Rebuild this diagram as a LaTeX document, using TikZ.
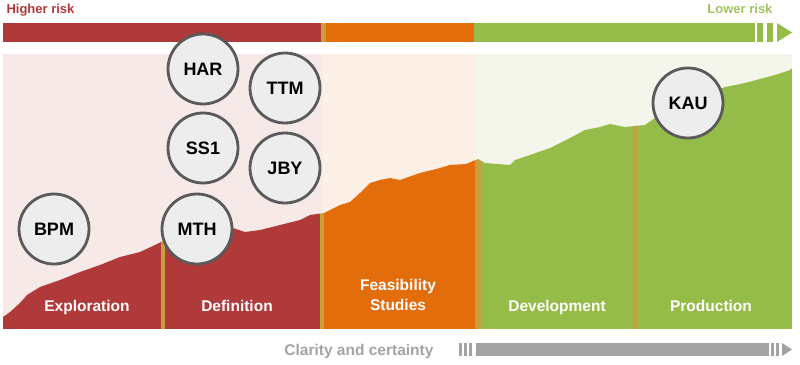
\documentclass[tikz,border=0pt]{standalone}
\usepackage{fontspec}
\setmainfont{Liberation Sans}
\usepackage{tikz}
\definecolor{riskred}{HTML}{B0393A}
\definecolor{riskorange}{HTML}{E36C0B}
\definecolor{riskgreen}{HTML}{95BC48}
\definecolor{stagegold}{HTML}{C6A03C}
\definecolor{bgpink}{HTML}{F6E9E7}
\definecolor{bgpeach}{HTML}{FCEFE6}
\definecolor{bggreen}{HTML}{F4F6EC}
\definecolor{discgray}{HTML}{EDEDED}
\definecolor{ringgray}{HTML}{5A5A5A}
\definecolor{claritygray}{HTML}{A3A3A3}
\tikzset{
  project/.style={circle,minimum size=70pt,inner sep=0pt,draw=ringgray,fill=discgray,
    line width=2.8pt,text=black,font=\fontsize{18}{18}\selectfont\bfseries},
  stagelabel/.style={text=white,font=\fontsize{15.5}{20}\selectfont\bfseries,align=center},
  risklabel/.style={font=\fontsize{13}{13}\selectfont\bfseries,#1},
  risklabel/.default={riskred},
}

\begin{document}
\begin{tikzpicture}[x=1pt,y=-1pt]
  \useasboundingbox (0,0) rectangle (800,364);
  % risk bar on top
  \fill[riskred] (3,23) rectangle (321,42);
  \fill[stagegold] (321,23) rectangle (326,42);
  \fill[riskorange] (326,23) rectangle (474,42);
  \fill[riskgreen] (474,23) rectangle (755,42);
  \foreach \x in {757,767} \fill[riskgreen] (\x,23) rectangle ++(6,19);
  \fill[riskgreen] (777,23) -- (792,32.5) -- (777,42) -- cycle;
  \node[risklabel,anchor=base west] (higher) at (3,13.5) {Higher risk};
  \node[risklabel=riskgreen!90!white,anchor=base east] (lower) at (776,13.5) {Lower risk};
  % stage panels
  \fill[bgpink] (3,54) rectangle (322,329);
  \fill[bgpeach] (322,54) rectangle (476,329);
  \fill[bggreen] (476,54) rectangle (792,329);
  \begin{scope}
    \clip (3,329) -- (3,317) -- (10,312) -- (20,303) -- (27,295) -- (40,287) -- (60,280)
      -- (80,272) -- (100,265) -- (120,257) -- (140,252) -- (155,245) -- (161,242)
      -- (180,238) -- (200,235) -- (220,231) -- (233,228) -- (245,232) -- (260,230)
      -- (280,225) -- (300,220) -- (310,215) -- (324,213) -- (330,210) -- (340,205)
      -- (350,202) -- (360,193) -- (370,183) -- (380,180) -- (390,178) -- (400,180)
      -- (420,173) -- (440,168) -- (450,165) -- (466,164) -- (478,159) -- (485,163)
      -- (510,165) -- (515,160) -- (530,155) -- (550,148) -- (570,138) -- (585,130)
      -- (600,127) -- (610,124) -- (625,127) -- (635,126) -- (645,125) -- (655,118)
      -- (670,110) -- (690,100) -- (710,93) -- (725,87) -- (745,83) -- (760,79)
      -- (775,75) -- (790,70) -- (792,68) -- (792,329) -- cycle;
    \fill[riskred] (3,0) rectangle (320,329);
    \fill[riskorange] (324,0) rectangle (475,329);
    \fill[riskgreen] (481,0) rectangle (792,329);
    \foreach \a/\b in {161/165,320/324,475/481,633/637}
      \fill[stagegold] (\a,0) rectangle (\b,329);
  \end{scope}
  \node[stagelabel,anchor=base] (explore) at (87,311) {Exploration};
  \node[stagelabel,anchor=base] (define) at (237,311) {Definition};
  \node[stagelabel] (feasible) at (398,295) {Feasibility\\Studies};
  \node[stagelabel,anchor=base] (develop) at (557,311) {Development};
  \node[stagelabel,anchor=base] (produce) at (711,311) {Production};
  % projects
  \node[project] (har) at (203,69) {HAR};
  \node[project] (ttm) at (285,88) {TTM};
  \node[project] (ss1) at (203,148) {SS1};
  \node[project] (jby) at (285,168) {JBY};
  \node[project] (mth) at (197,229) {MTH};
  \node[project] (bpm) at (54,229) {BPM};
  \node[project] (kau) at (688,103) {KAU};
  % clarity arrow
  \node[font=\fontsize{15.5}{15.5}\selectfont\bfseries,text=claritygray,anchor=base east]
    (clarity) at (437,355) {Clarity and certainty};
  \foreach \x in {459,464,469} \fill[claritygray] (\x,343) rectangle ++(2.5,13);
  \fill[claritygray] (476,343) rectangle (769,356);
  \foreach \x in {771,776} \fill[claritygray] (\x,343) rectangle ++(3,13);
  \fill[claritygray] (782,343) -- (792,349.5) -- (782,356) -- cycle;
\end{tikzpicture}
\end{document}
